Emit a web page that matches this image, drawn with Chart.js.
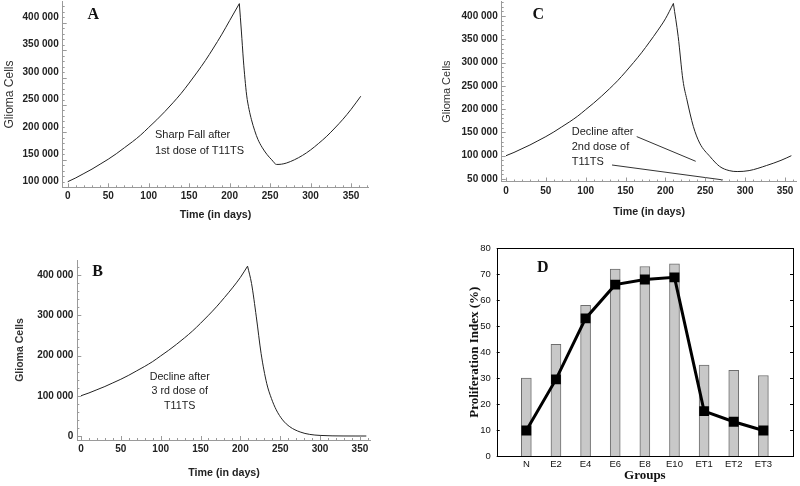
<!DOCTYPE html>
<html><head><meta charset="utf-8">
<script src="https://cdn.jsdelivr.net/npm/chart.js@4.4.1/dist/chart.umd.min.js"></script>
<style>
html,body{margin:0;padding:0;background:#fff;}
#wrap{position:relative;width:800px;height:486px;overflow:hidden;background:#fff;}
canvas{position:absolute;}
</style></head><body>
<div id="wrap">
<canvas id="cA" width="400" height="222" style="left:0;top:0;width:400px;height:222px"></canvas>
<canvas id="cC" width="400" height="222" style="left:400px;top:0;width:400px;height:222px"></canvas>
<canvas id="cB" width="400" height="246" style="left:0;top:240px;width:400px;height:246px"></canvas>
<canvas id="cD" width="360" height="246" style="left:440px;top:240px;width:360px;height:246px"></canvas>
</div>
<script>
// ---------- data ----------
// growth phase shared by panels A, B, C
const riseDays  = [0,10,20,30,40,50,60,70,80,90,100,110,120,130,140,150,160,170,180,190,200];
const riseCells = [100000,107000,115000,123000,132000,141000,151000,162000,173000,185000,199000,213000,228000,244000,261000,280000,300000,321000,344000,368000,394000];

// Panel A: after 1st dose
const daysA  = [212,214.5,217,219,221,224,227,231,235,240,246,252,258,264,270,280,290,300,310,320,330,340,350,362];
const cellsA = [425000,375000,322000,287000,258000,232000,213000,193000,177000,163000,150000,140000,131500,132000,134000,140000,148000,158000,170000,183000,198000,214000,232000,256000];

// Panel C: after 2nd dose
const daysC  = [210,216,222,227,235,243,256,268,280,290,305,327,345,358];
const cellsC = [427000,356000,262000,220000,163000,127000,98000,77000,68000,66000,68000,79000,90000,100000];
const calloutC1Days = [164,238], calloutC1Cells = [141000,88000];
const calloutC2Days = [133,272], calloutC2Cells = [80000,48000];

// Panel B: after 3rd dose
const daysB  = [209,214,220,226,233,239,245,253,262,275,287,300,315,330,345,358];
const cellsB = [422000,379000,296000,205000,131000,93000,65000,40000,23000,10000,4000,1500,400,100,0,0];

// tick values
const dayTicks = [0,50,100,150,200,250,300,350];
const yTicksA = [100000,150000,200000,250000,300000,350000,400000];
const yTicksC = [50000,100000,150000,200000,250000,300000,350000,400000];
const yTicksB = [0,100000,200000,300000,400000];

// Panel D
const groups = ['N','E2','E4','E6','E8','E10','ET1','ET2','ET3'];
const barValues  = [30,43,58,72,73,74,35,33,31];
const lineValues = [9.8,29.5,53,66,68,68.8,17.3,13.2,9.8];
const dTicks = [0,10,20,30,40,50,60,70,80];

// ---------- helpers ----------
const SANS = "'Liberation Sans', Arial, sans-serif";
const SERIF = "'Liberation Serif', 'Times New Roman', serif";
function pts(xs, ys){ return xs.map((x,i)=>({x:x, y:ys[i]})); }
function fmtCells(v){ return v === 0 ? '0' : Math.round(v/1000) + ' 000'; }

const mmaTicks = {
  id: 'mmaTicks',
  afterDatasetsDraw(chart, args, o) {
    if (!o || !o.on) return;
    const {ctx, chartArea: a, scales: {x, y}} = chart;
    ctx.save(); ctx.strokeStyle = o.color; ctx.lineWidth = 1;
    ctx.beginPath();
    for (let i = 0; ; i++) {
      const v = o.xFrom + i * o.xMinor; if (v > o.xTo) break;
      const px = Math.round(x.getPixelForValue(v)) + 0.5;
      const len = (i % o.xEvery === 0) ? 4 : 2;
      ctx.moveTo(px, a.bottom); ctx.lineTo(px, a.bottom - len);
    }
    for (let i = 0; ; i++) {
      const v = o.yFrom + i * o.yMinor; if (v > o.yTo) break;
      const py = Math.round(y.getPixelForValue(v)) + 0.5;
      const len = (i % o.yEvery === 0) ? 4 : 2;
      ctx.moveTo(a.left, py); ctx.lineTo(a.left + len, py);
    }
    ctx.stroke(); ctx.restore();
  }
};

const textPlugin = {
  id: 'texts',
  afterDraw(chart, args, o) {
    const ctx = chart.ctx;
    ctx.save();
    (o.items || []).forEach(it => {
      ctx.font = it.font; ctx.fillStyle = it.color || '#222';
      ctx.textAlign = it.align || 'left'; ctx.textBaseline = 'middle';
      ctx.fillText(it.text, it.x, it.y);
    });
    ctx.restore();
  }
};

function gliomaChart(id, c) {
  const lineStyle = {borderColor:'#222', borderWidth:1, pointRadius:0, cubicInterpolationMode:'monotone', fill:false};
  const datasets = [
    Object.assign({data: pts(riseDays.concat([c.days[0]]), riseCells.concat([c.cells[0]]))}, lineStyle),
    Object.assign({data: pts(c.days, c.cells)}, lineStyle)
  ];
  (c.callouts || []).forEach(cl => datasets.push({data: pts(cl[0], cl[1]), borderColor:'#333', borderWidth:1, pointRadius:0, tension:0, fill:false}));
  return new Chart(document.getElementById(id), {
    type: 'line',
    data: {datasets: datasets},
    options: {
      responsive:false, animation:false, events:[],
      layout: {padding: c.pad},
      plugins: {
        legend:{display:false}, tooltip:{enabled:false},
        mmaTicks: Object.assign({on:true, color:'#9a9a9a'}, c.ticks),
        texts: {items: c.texts}
      },
      scales: {
        x: {
          type:'linear', min:c.xMin, max:c.xMax,
          afterBuildTicks: s => { s.ticks = dayTicks.map(v => ({value:v})); },
          afterFit: s => { s.height = c.xH; s.paddingLeft = 0; s.paddingRight = 0; },
          grid:{display:false, drawTicks:false}, border:{color:'#9a9a9a', width:1},
          ticks:{font:{family:SANS, size:10, weight:'bold'}, color:'#222', padding:c.xPad, maxRotation:0, autoSkip:false},
          title:{display:true, text:'Time (in days)', color:'#222', font:{family:SANS, size:10.7, weight:'bold'}, padding:{top:0, bottom:c.xTitlePad}}
        },
        y: {
          type:'linear', min:c.yMin, max:c.yMax,
          afterBuildTicks: s => { s.ticks = c.yTicks.map(v => ({value:v})); },
          afterFit: s => { s.width = c.yW; s.paddingTop = 0; s.paddingBottom = 0; },
          grid:{display:false, drawTicks:false}, border:{color:'#9a9a9a', width:1},
          ticks:{font:{family:SANS, size:10, weight:'bold'}, color:'#222', padding:4, callback: v => fmtCells(v)},
          title:{display:true, text:'Glioma Cells', color:'#333', font:c.yTitleFont, padding:{top:c.yTitlePad, bottom:0}}
        }
      }
    },
    plugins: [mmaTicks, textPlugin]
  });
}

// Panel A
gliomaChart('cA', {
  days: daysA, cells: cellsA,
  pad: {left:0, top:1.7, right:31.7, bottom:0},
  xMin:-6.2, xMax:371.3, yMin:89800, yMax:428500,
  xH:34.7, xPad:2.5, xTitlePad:1, yW:62.7, yTitlePad:2,
  yTicks: yTicksA,
  yTitleFont: {family:SANS, size:12, weight:'normal'},
  ticks: {xFrom:0, xTo:370, xMinor:10, xEvery:5, yFrom:90000, yTo:428000, yMinor:10000, yEvery:5},
  texts: [
    {text:'A', x:93.3, y:15, font:"bold 16px " + SERIF, align:'center', color:'#111'},
    {text:'Sharp Fall after', x:155, y:135, font:"11px " + SANS},
    {text:'1st dose of T11TS', x:155, y:150.7, font:"11px " + SANS}
  ]
});

// Panel C
gliomaChart('cC', {
  days: daysC, cells: cellsC,
  callouts: [[calloutC1Days, calloutC1Cells], [calloutC2Days, calloutC2Cells]],
  pad: {left:0, top:1.7, right:3.3, bottom:0},
  xMin:-5.4, xMax:364.7, yMin:44600, yMax:430700,
  xH:40.5, xPad:3.3, xTitlePad:3.8, yW:101.7, yTitlePad:40,
  yTicks: yTicksC,
  yTitleFont: {family:SANS, size:11, weight:'normal'},
  ticks: {xFrom:0, xTo:364, xMinor:10, xEvery:5, yFrom:50000, yTo:430000, yMinor:10000, yEvery:5},
  texts: [
    {text:'C', x:138.3, y:15, font:"bold 16px " + SERIF, align:'center', color:'#111'},
    {text:'Decline after', x:171.7, y:131.7, font:"11px " + SANS},
    {text:'2nd dose of', x:171.7, y:146.7, font:"11px " + SANS},
    {text:'T11TS', x:171.7, y:162.3, font:"11px " + SANS}
  ]
});

// Panel B
gliomaChart('cB', {
  days: daysB, cells: cellsB,
  pad: {left:0, top:20, right:29.3, bottom:0},
  xMin:-4.6, xMax:363.5, yMin:-9900, yMax:437300,
  xH:46, xPad:3, xTitlePad:7, yW:77.3, yTitlePad:13.5,
  yTicks: yTicksB,
  yTitleFont: {family:SANS, size:10.5, weight:'bold'},
  ticks: {xFrom:0, xTo:363, xMinor:10, xEvery:5, yFrom:0, yTo:437000, yMinor:20000, yEvery:5},
  texts: [
    {text:'B', x:97.7, y:32.3, font:"bold 16px " + SERIF, align:'center', color:'#111'},
    {text:'Decline after', x:179.7, y:137.3, font:"10.7px " + SANS, align:'center'},
    {text:'3 rd dose of', x:179.7, y:150.7, font:"10.7px " + SANS, align:'center'},
    {text:'T11TS', x:179.7, y:165.7, font:"10.7px " + SANS, align:'center'}
  ]
});

// Panel D
const frameTicks = {
  id: 'frameTicks',
  afterDraw(chart) {
    const {ctx, chartArea: a, scales: {y}} = chart;
    ctx.save(); ctx.strokeStyle = '#000'; ctx.lineWidth = 1;
    ctx.strokeRect(Math.round(a.left) + 0.5, Math.round(a.top) + 0.5, Math.round(a.right - a.left), Math.round(a.bottom - a.top));
    ctx.beginPath();
    dTicks.forEach(v => {
      const py = Math.round(y.getPixelForValue(v)) + 0.5;
      ctx.moveTo(a.left, py); ctx.lineTo(a.left + 3, py);
      ctx.moveTo(a.right, py); ctx.lineTo(a.right - 3, py);
    });
    ctx.stroke(); ctx.restore();
  }
};
new Chart(document.getElementById('cD'), {
  type: 'bar',
  data: {
    labels: [''].concat(groups, ['']),
    datasets: [
      {type:'line', data:[null].concat(lineValues, [null]), borderColor:'#000', borderWidth:3, pointStyle:'rect', pointRadius:7, pointBackgroundColor:'#000', pointBorderColor:'#000', pointBorderWidth:0, tension:0, order:0, spanGaps:false},
      {type:'bar', data:[null].concat(barValues, [null]), backgroundColor:'#c8c8c8', borderColor:'#6e6e6e', borderWidth:1, barThickness:10, order:1}
    ]
  },
  options: {
    responsive:false, animation:false, events:[],
    layout: {padding: {left:0, top:8.3, right:6, bottom:0}},
    plugins: {legend:{display:false}, tooltip:{enabled:false},
      texts: {items: [{text:'D', x:102.7, y:28.3, font:"bold 16px " + SERIF, align:'center', color:'#111'}]}},
    scales: {
      x: {
        type:'category', offset:false,
        afterFit: s => { s.height = 30; s.paddingLeft = 0; s.paddingRight = 0; },
        grid:{display:false, drawTicks:false}, border:{display:false},
        ticks:{font:{family:SANS, size:9.5}, color:'#111', padding:2.3, maxRotation:0, autoSkip:false},
        title:{display:true, text:'Groups', color:'#111', font:{family:SERIF, size:13, weight:'bold'}, padding:{top:0, bottom:2.2}}
      },
      y: {
        min:0, max:80,
        afterBuildTicks: s => { s.ticks = dTicks.map(v => ({value:v})); },
        afterFit: s => { s.width = 56.7; s.paddingTop = 0; s.paddingBottom = 0; },
        grid:{display:false, drawTicks:false}, border:{display:false},
        ticks:{font:{family:SANS, size:9.5}, color:'#111', padding:6},
        title:{display:true, text:'Proliferation Index (%)', color:'#111', font:{family:SERIF, size:13, weight:'bold'}, padding:{top:27, bottom:0}}
      }
    }
  },
  plugins: [frameTicks, textPlugin]
});
</script>
</body></html>
